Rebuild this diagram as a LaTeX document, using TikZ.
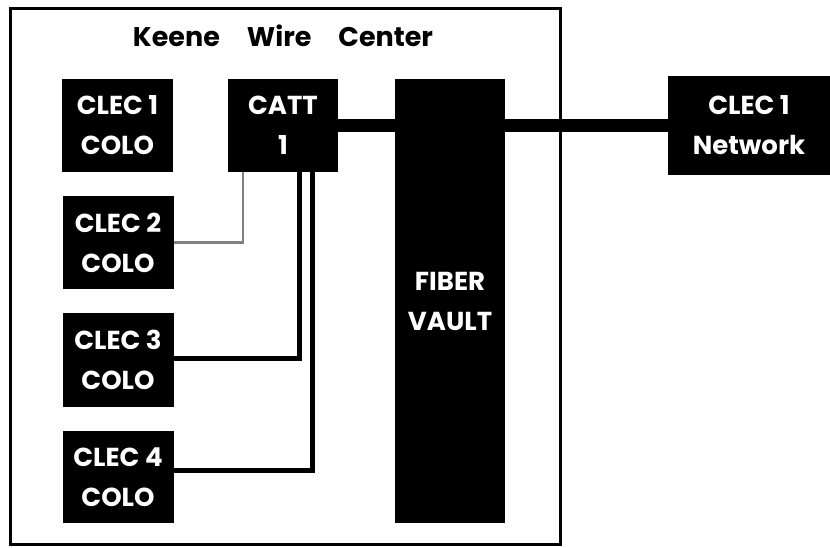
\documentclass[tikz,border=0pt]{standalone}
\usepackage{fontspec}
\setmainfont{Poppins}
\usetikzlibrary{positioning}

\begin{document}
\begin{tikzpicture}[x=1pt,y=-1pt,every node/.style={rectangle,fill=black,text=white,align=center,inner sep=0pt,font=\bfseries\fontsize{26}{40}\selectfont}]
    \useasboundingbox (0,0) rectangle (830,548);
    \draw[line width=3pt] (10,9) rectangle (560,544);
    \node[fill=none,text=black,font=\bfseries\fontsize{27}{30}\selectfont] (title) at (283,36) {Keene\quad Wire\quad Center};

    \node[minimum width=111pt,minimum height=93pt] (c1) at (117.5,125.5) {CLEC 1\\COLO};
    \node[minimum width=111pt,minimum height=93pt] (c2) at (118,242.5) {CLEC 2\\COLO};
    \node[minimum width=111pt,minimum height=94pt] (c3) at (118,360) {CLEC 3\\COLO};
    \node[minimum width=111pt,minimum height=92pt] (c4) at (118,477) {CLEC 4\\COLO};
    \node[minimum width=110pt,minimum height=93pt] (catt) at (283,125.5) {CATT\\1};
    \node[minimum width=110pt,minimum height=444pt] (vault) at (450,301) {FIBER\\VAULT};
    \node[minimum width=162pt,minimum height=99pt] (net) at (749,125.5) {CLEC 1\\Network};

  % cross connects
  \draw[line width=13pt] (catt.east) -- (net.west);
  \draw[black!50,line width=2.5pt] ([xshift=-40pt]catt.south) |- (c2.east);
  \draw[line width=5pt] ([xshift=16pt]catt.south) |- ([yshift=2pt]c3.east);
  \draw[line width=5pt] ([xshift=29pt]catt.south) |- ([yshift=7pt]c4.east);
    \end{tikzpicture}
\end{document}
